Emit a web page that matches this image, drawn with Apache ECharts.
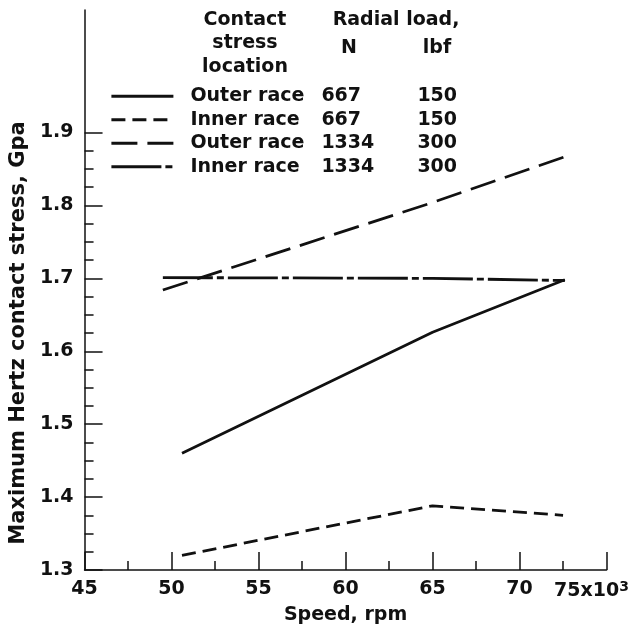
<!DOCTYPE html>
<html>
<head>
<meta charset="utf-8">
<script src="https://cdn.jsdelivr.net/npm/echarts@6/dist/echarts.min.js"></script>
<style>html,body{margin:0;padding:0;background:#fff}#c{width:632px;height:631px}</style>
</head>
<body>
<div id="c"></div>
<script>
// ---- data ----
var seriesNames = ['Outer race', 'Inner race', 'Outer race ', 'Inner race '];
var loadN = ['667', '667', '1334', '1334'];
var loadLbf = ['150', '150', '300', '300'];
var speedOuter667 = [50.6, 65, 72.6];
var stressOuter667 = [1.46, 1.626, 1.698];
var speedInner667 = [50.6, 65, 72.5];
var stressInner667 = [1.32, 1.388, 1.375];
var speedOuter1334 = [49.5, 65, 73.0];
var stressOuter1334 = [1.684, 1.804, 1.87];
var speedInner1334 = [49.5, 65, 72.6];
var stressInner1334 = [1.701, 1.700, 1.697];
var xTicks = [45, 50, 55, 60, 65, 70, 75];
var yMajorTicks = [1.3, 1.4, 1.5, 1.6, 1.7, 1.8, 1.9];
var yMinorTicks = [1.325, 1.35, 1.375, 1.425, 1.45, 1.475, 1.525, 1.55, 1.575, 1.625, 1.65, 1.675, 1.725, 1.75, 1.775, 1.825, 1.85, 1.875];
var headerLocation = 'Contact\nstress\nlocation';
var headerLoad = 'Radial load,';
var headerN = 'N';
var headerLbf = 'lbf';
var xName = 'Speed, rpm';
var yName = 'Maximum Hertz contact stress, Gpa';

var FONT = 'DejaVu Sans';
var FS = 19;
var txt = {fontFamily: FONT, fontWeight: 'bold', fontSize: FS, color: '#111'};
var gfont = 'bold 19px "DejaVu Sans"';

function pairs(xs, ys) { return xs.map(function (x, i) { return [x, ys[i]]; }); }

var dashes = ['solid', [14, 7], [26, 10], [50, 4, 7, 4]];
var data = [pairs(speedOuter667, stressOuter667), pairs(speedInner667, stressInner667),
            pairs(speedOuter1334, stressOuter1334), pairs(speedInner1334, stressInner1334)];

var series = seriesNames.map(function (n, i) {
  return {
    name: n, type: 'line', data: data[i], symbol: 'none', silent: true,
    xAxisIndex: 0, yAxisIndex: 0,
    lineStyle: {color: '#111', width: 2.8, type: dashes[i], cap: 'butt'},
    animation: false
  };
});

var chart = echarts.init(document.getElementById('c'), null, {renderer: 'canvas'});
chart.setOption({
  backgroundColor: '#fff',
  animation: false,
  grid: {left: 84, right: 25, top: 10, bottom: 61},
  xAxis: {
    type: 'value', min: 45, max: 75, interval: 5,
    name: xName, nameLocation: 'middle', nameGap: 35,
    nameTextStyle: txt,
    axisLine: {lineStyle: {color: '#111', width: 1.5}},
    axisTick: {show: true, inside: true, length: 18, lineStyle: {color: '#111', width: 1.5}},
    minorTick: {show: true, splitNumber: 2, length: 9, lineStyle: {color: '#111', width: 1.5}},
    splitLine: {show: false},
    axisLabel: Object.assign({}, txt, {
      margin: 10,
      formatter: function (v) {
        if (v === xTicks[xTicks.length - 1]) return '{a|' + v + 'x10}{s|3}';
        return String(v);
      },
      rich: {
        a: Object.assign({}, txt),
        s: Object.assign({}, txt, {fontSize: 14, verticalAlign: 'top', padding: [0, 30, 8, 0]})
      }
    })
  },
  yAxis: [{
    type: 'value', min: 1.3, max: 2.068,
    name: yName, nameLocation: 'middle', nameGap: 53,
    nameTextStyle: Object.assign({}, txt, {fontSize: 21, padding: [0, 86, 0, 0]}),
    axisLine: {lineStyle: {color: '#111', width: 1.5}},
    axisTick: {show: true, inside: true, length: 18, customValues: yMajorTicks, lineStyle: {color: '#111', width: 1.5}},
    splitLine: {show: false},
    axisLabel: Object.assign({}, txt, {margin: 11, customValues: yMajorTicks, formatter: function (v) { return v.toFixed(1); }})
  }, {
    type: 'value', min: 1.3, max: 2.068, position: 'left', offset: 0,
    axisLine: {show: false},
    axisTick: {show: true, inside: true, length: 9, customValues: yMinorTicks, lineStyle: {color: '#111', width: 1.5}},
    splitLine: {show: false},
    axisLabel: {show: false}
  }],
  legend: {
    orient: 'vertical', left: 110, top: 84.5, padding: 0, itemGap: 0,
    itemWidth: 62, itemHeight: 23.5,
    data: seriesNames,
    selectedMode: false,
    itemStyle: {opacity: 0},
    lineStyle: {width: 2.8},
    textStyle: Object.assign({}, txt, {
      lineHeight: 23.5,
      rich: {
        a: Object.assign({}, txt, {width: 131, padding: [0, 0, 0, 12], lineHeight: 23.5}),
        b: Object.assign({}, txt, {width: 96, lineHeight: 23.5}),
        c: Object.assign({}, txt, {lineHeight: 23.5})
      }
    }),
    formatter: function (name) {
      var i = seriesNames.indexOf(name);
      return '{a|' + name.trim() + '}{b|' + loadN[i] + '}{c|' + loadLbf[i] + '}';
    }
  },
  graphic: [
    {type: 'text', x: 245, y: 8.2, style: {text: headerLocation, fill: '#111', font: gfont, align: 'center', verticalAlign: 'top', lineHeight: 23.5}},
    {type: 'text', x: 396, y: 8.2, style: {text: headerLoad, fill: '#111', font: gfont, align: 'center', verticalAlign: 'top', lineHeight: 23.5}},
    {type: 'text', x: 349, y: 36, style: {text: headerN, fill: '#111', font: gfont, align: 'center', verticalAlign: 'top', lineHeight: 23.5}},
    {type: 'text', x: 437, y: 36, style: {text: headerLbf, fill: '#111', font: gfont, align: 'center', verticalAlign: 'top', lineHeight: 23.5}}
  ],
  series: series
});
</script>
</body>
</html>
